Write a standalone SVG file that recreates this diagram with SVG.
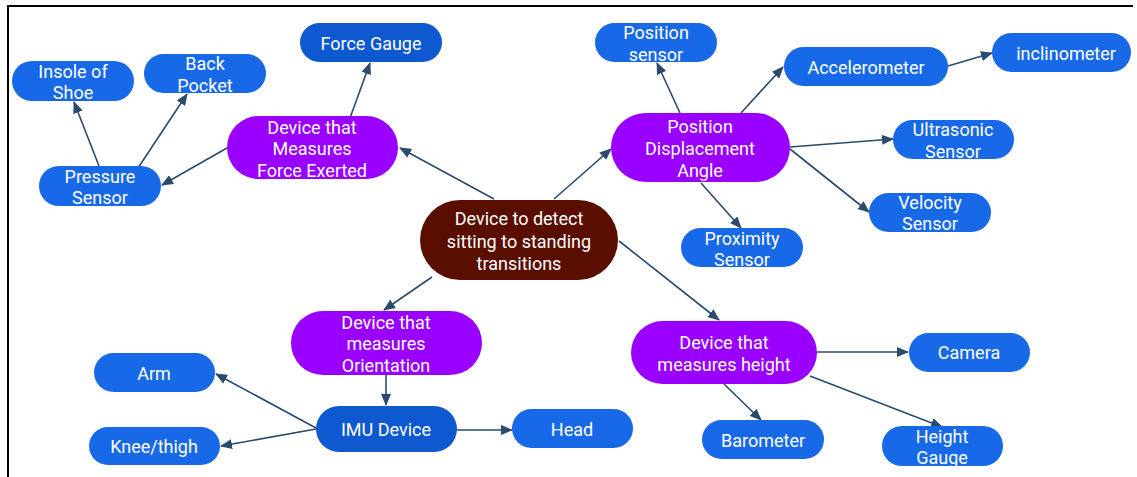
<svg xmlns="http://www.w3.org/2000/svg" width="1137" height="477" viewBox="0 0 1137 477">
<style>
.n{stroke:none}
.b{fill:#1769e8}
.d{fill:#0e58d0}
.p{fill:#9900ff}
.c{fill:#5a0e00}
text{font-family:Roboto,"Liberation Sans",sans-serif;font-size:18px;fill:#fff;text-anchor:middle;dominant-baseline:central}
.e line{stroke:#2a4a6e;stroke-width:1.6;marker-end:url(#ah)}
</style>
<defs>
<marker id="ah" viewBox="0 0 12 10" refX="11" refY="5" markerWidth="12" markerHeight="10" markerUnits="userSpaceOnUse" orient="auto">
<path d="M0,0 L12,5 L0,10 z" fill="#2a4a6e"/>
</marker>
</defs>
<rect width="1137" height="477" fill="#fff"/>
<path d="M8,477 V6 H1133" fill="none" stroke="#000" stroke-width="2"/>
<g class="e" id="connectors">
<line x1="494" y1="199" x2="400" y2="148"/>
<line x1="554" y1="199" x2="611" y2="149"/>
<line x1="432" y1="277" x2="384" y2="310"/>
<line x1="619" y1="241" x2="719" y2="320"/>
<line x1="350" y1="118" x2="370" y2="63"/>
<line x1="227" y1="148" x2="162" y2="185"/>
<line x1="99" y1="166" x2="74" y2="102"/>
<line x1="138" y1="168" x2="187" y2="94"/>
<line x1="680" y1="113" x2="657" y2="63"/>
<line x1="741" y1="113" x2="783" y2="67"/>
<line x1="948" y1="66" x2="992" y2="53"/>
<line x1="790" y1="147" x2="893" y2="139"/>
<line x1="790" y1="149" x2="869" y2="212"/>
<line x1="701" y1="183" x2="741" y2="228"/>
<line x1="386" y1="375" x2="386" y2="405"/>
<line x1="316" y1="428" x2="216" y2="374"/>
<line x1="316" y1="429" x2="221" y2="446"/>
<line x1="457" y1="430" x2="512" y2="430"/>
<line x1="817" y1="352" x2="908" y2="352"/>
<line x1="724" y1="384" x2="761" y2="420"/>
<line x1="810" y1="376" x2="942" y2="427"/>
</g>
<g id="center"><rect class="c" x="420" y="200" width="198" height="80" rx="40"/><text x="519" y="218">Device to detect</text><text x="519" y="241">sitting to standing</text><text x="519" y="263">transitions</text></g>
<g id="force-exerted"><rect class="p" x="227" y="116" width="171" height="63" rx="31.5"/><text x="312" y="127">Device that</text><text x="312" y="148">Measures</text><text x="312" y="170">Force Exerted</text></g>
<g id="force-gauge"><rect class="d" x="300" y="23" width="142" height="39" rx="19.5"/><text x="371" y="43">Force Gauge</text></g>
<g id="insole"><rect class="b" x="12" y="61" width="122" height="40" rx="20"/><text x="73" y="71">Insole of</text><text x="73" y="92">Shoe</text></g>
<g id="back-pocket"><rect class="b" x="144" y="54" width="122" height="39" rx="19.5"/><text x="205" y="63">Back</text><text x="205" y="85">Pocket</text></g>
<g id="pressure"><rect class="b" x="39" y="166" width="122" height="40" rx="20"/><text x="100" y="176">Pressure</text><text x="100" y="197">Sensor</text></g>
<g id="pda"><rect class="p" x="611" y="113" width="179" height="69" rx="34.5"/><text x="700" y="126">Position</text><text x="700" y="148">Displacement</text><text x="700" y="170">Angle</text></g>
<g id="position-sensor"><rect class="b" x="595" y="23" width="122" height="39" rx="19.5"/><text x="656" y="32">Position</text><text x="656" y="54">sensor</text></g>
<g id="accelerometer"><rect class="b" x="784" y="47" width="164" height="39" rx="19.5"/><text x="866" y="67">Accelerometer</text></g>
<g id="inclinometer"><rect class="b" x="992" y="33" width="139" height="39" rx="19.5"/><text x="1066" y="53">inclinometer</text></g>
<g id="ultrasonic"><rect class="b" x="893" y="120" width="121" height="39" rx="19.5"/><text x="953" y="129">Ultrasonic</text><text x="953" y="151">Sensor</text></g>
<g id="velocity"><rect class="b" x="869" y="193" width="122" height="39" rx="19.5"/><text x="930" y="202">Velocity</text><text x="930" y="223">Sensor</text></g>
<g id="proximity"><rect class="b" x="681" y="228" width="122" height="39" rx="19.5"/><text x="742" y="238">Proximity</text><text x="742" y="259">Sensor</text></g>
<g id="orientation"><rect class="p" x="291" y="311" width="191" height="64" rx="32"/><text x="386" y="322">Device that</text><text x="386" y="343">measures</text><text x="386" y="365">Orientation</text></g>
<g id="imu"><rect class="d" x="316" y="406" width="141" height="46" rx="23"/><text x="386" y="429">IMU Device</text></g>
<g id="arm"><rect class="b" x="94" y="353" width="121" height="39" rx="19.5"/><text x="154" y="373">Arm</text></g>
<g id="knee"><rect class="b" x="89" y="427" width="131" height="38" rx="19"/><text x="154" y="446">Knee/thigh</text></g>
<g id="head"><rect class="b" x="512" y="409" width="121" height="39" rx="19.5"/><text x="572" y="429">Head</text></g>
<g id="height-device"><rect class="p" x="631" y="321" width="186" height="63" rx="31.5"/><text x="724" y="342">Device that</text><text x="724" y="364">measures height</text></g>
<g id="camera"><rect class="b" x="909" y="333" width="121" height="39" rx="19.5"/><text x="969" y="352">Camera</text></g>
<g id="barometer"><rect class="b" x="702" y="420" width="122" height="39" rx="19.5"/><text x="763" y="440">Barometer</text></g>
<g id="height-gauge"><rect class="b" x="882" y="426" width="121" height="40" rx="20"/><text x="942" y="436">Height</text><text x="942" y="457">Gauge</text></g>
</svg>
